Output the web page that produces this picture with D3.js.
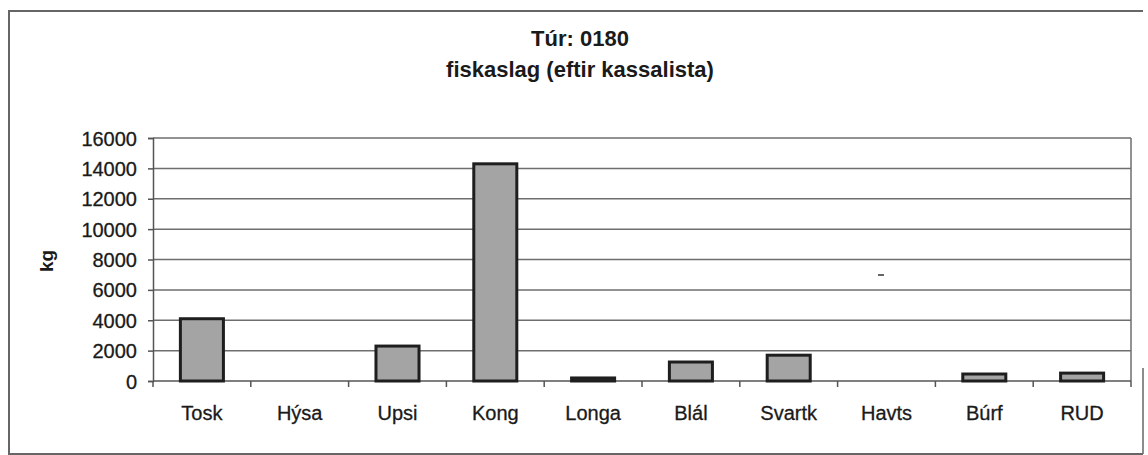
<!DOCTYPE html>
<html>
<head>
<meta charset="utf-8">
<script src="https://cdn.jsdelivr.net/npm/d3@7"></script>
<style>
  html, body { margin: 0; padding: 0; background: #fff; }
  svg { display: block; font-family: "Liberation Sans", Arial, sans-serif; }
</style>
</head>
<body>
<svg id="chart" width="1148" height="455"></svg>
<script>
// Catch per species, kg
const categories = ["Tosk", "Hýsa", "Upsi", "Kong", "Longa", "Blál", "Svartk", "Havts", "Búrf", "RUD"];
const values = [4100, 0, 2300, 14300, 200, 1250, 1700, 0, 460, 520];
const yTicks = [0, 2000, 4000, 6000, 8000, 10000, 12000, 14000, 16000];
const titleLines = ["Túr: 0180", "fiskaslag (eftir kassalista)"];
const yLabel = "kg";

const svg = d3.select("#chart");
const plot = { left: 153, right: 1131, top: 138, bottom: 381 };
const ink = "#1a1a1a";

// Outer frame of the chart sheet
svg.append("path")
  .attr("d", "M1143,11 L9,11 L9,454 L1143,454")
  .attr("fill", "none").attr("stroke", "#666").attr("stroke-width", 2);
svg.append("line")
  .attr("x1", 1143).attr("x2", 1143).attr("y1", 368).attr("y2", 454)
  .attr("stroke", "#666").attr("stroke-width", 1.5);

const x = d3.scaleBand()
  .domain(categories)
  .range([plot.left, plot.right])
  .paddingInner(0.56)
  .paddingOuter(0.28);

const y = d3.scaleLinear()
  .domain([0, 16000])
  .range([plot.bottom, plot.top]);

// Horizontal gridlines
svg.append("g")
  .selectAll("line")
  .data(yTicks.filter(d => d > 0))
  .join("line")
  .attr("x1", plot.left).attr("x2", plot.right)
  .attr("y1", d => y(d)).attr("y2", d => y(d))
  .attr("stroke", "#6e6e6e").attr("stroke-width", 1.5);

// Right edge of plot area
svg.append("line")
  .attr("x1", plot.right).attr("x2", plot.right)
  .attr("y1", plot.top).attr("y2", plot.bottom)
  .attr("stroke", "#6e6e6e").attr("stroke-width", 1.5);

// Y axis
const yAxis = svg.append("g")
  .attr("transform", `translate(${plot.left},0)`)
  .call(d3.axisLeft(y).tickValues(yTicks).tickSize(5).tickPadding(11).tickFormat(d3.format("d")));
yAxis.select(".domain").attr("stroke", "#555").attr("stroke-width", 1.5);
yAxis.selectAll(".tick line").attr("stroke", "#555").attr("stroke-width", 1.5);
yAxis.selectAll(".tick text")
  .attr("font-size", 20).attr("fill", ink)
  .attr("stroke", ink).attr("stroke-width", 0.3)
  .attr("dy", "0.35em")
  .attr("font-family", "'Liberation Sans', Arial, sans-serif");

// X axis with ticks between categories
const xAxisG = svg.append("g").attr("transform", `translate(0,${plot.bottom})`);
xAxisG.append("line")
  .attr("x1", plot.left).attr("x2", plot.right)
  .attr("stroke", "#555").attr("stroke-width", 1.5);
const step = x.step();
xAxisG.selectAll("line.sep")
  .data(d3.range(categories.length + 1))
  .join("line").attr("class", "sep")
  .attr("x1", i => plot.left + i * step).attr("x2", i => plot.left + i * step)
  .attr("y1", 0).attr("y2", 6)
  .attr("stroke", "#555").attr("stroke-width", 1.5);
xAxisG.selectAll("text")
  .data(categories)
  .join("text")
  .attr("x", d => x(d) + x.bandwidth() / 2)
  .attr("y", 39)
  .attr("text-anchor", "middle")
  .attr("font-size", 20).attr("fill", ink)
  .attr("stroke", ink).attr("stroke-width", 0.3)
  .text(d => d);

// Bars
svg.append("g")
  .selectAll("rect")
  .data(categories.map((c, i) => ({ c, v: values[i] })).filter(d => d.v > 0))
  .join("rect")
  .attr("x", d => x(d.c))
  .attr("y", d => y(d.v))
  .attr("width", x.bandwidth())
  .attr("height", d => y(0) - y(d.v))
  .attr("fill", "#a4a4a4")
  .attr("stroke", "#1e1e1e").attr("stroke-width", 3);

// Title
svg.append("g")
  .selectAll("text")
  .data(titleLines)
  .join("text")
  .attr("x", 580)
  .attr("y", (d, i) => 46 + i * 31)
  .attr("text-anchor", "middle")
  .attr("font-size", 22).attr("font-weight", "bold").attr("fill", ink)
  .text(d => d);

// Y axis label
svg.append("text")
  .attr("transform", `translate(53,261) rotate(-90)`)
  .attr("text-anchor", "middle")
  .attr("font-size", 19).attr("font-weight", "bold").attr("fill", ink)
  .text(yLabel);

// Small stray mark inside the plot
svg.append("line")
  .attr("x1", 878).attr("x2", 884).attr("y1", 275).attr("y2", 275)
  .attr("stroke", "#333").attr("stroke-width", 1.5);
</script>
</body>
</html>
